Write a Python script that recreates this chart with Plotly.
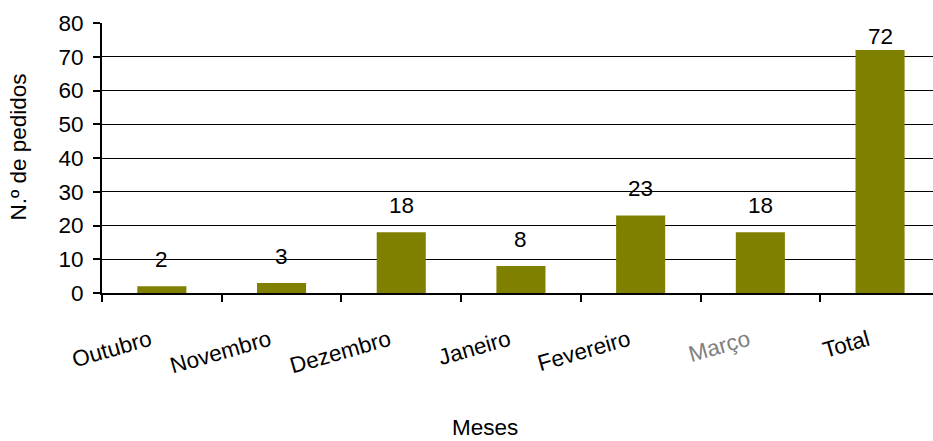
import plotly.graph_objects as go

categories = ["Outubro", "Novembro", "Dezembro", "Janeiro", "Fevereiro", "Março", "Total"]
values = [2, 3, 18, 8, 23, 18, 72]
y_ticks = [0, 10, 20, 30, 40, 50, 60, 70, 80]
y_title = "N.º de pedidos"
x_title = "Meses"

W, H = 933, 441
ML, MR, MT, MB = 102, 0, 23, 148
YMAX = 80
FONT = "Liberation Sans, Arial, sans-serif"
FS = 22.5
plot_h = H - MT - MB
ppu = plot_h / YMAX

pad = "\u00a0\u00a0"
ticktext = [(f'<span style="color:#808080">{c}</span>' if c == "Março" else c) + pad for c in categories]

fig = go.Figure()
fig.add_trace(go.Bar(
    x=categories, y=values,
    marker=dict(color="#808000", line=dict(width=0)),
    hoverinfo="x+y",
))

# data labels above bars, kept inside the plot area
for c, v in zip(categories, values):
    avail = (YMAX - v) * ppu
    shift = min(12, avail - 28)
    fig.add_annotation(x=c, y=v, text=str(v), showarrow=False,
                       yanchor="bottom", yshift=shift,
                       font=dict(family=FONT, size=FS, color="black"))

fig.add_annotation(xref="paper", yref="paper", x=0, y=(H - MB - 147.5) / plot_h,
                   xshift=-84, text=y_title, textangle=-90, showarrow=False,
                   xanchor="center", yanchor="middle",
                   font=dict(family=FONT, size=FS, color="black"))
fig.add_annotation(xref="paper", yref="paper", x=(484.5 - ML) / (W - ML - MR),
                   y=-(427 - (H - MB)) / plot_h, text=x_title, showarrow=False,
                   xanchor="center", yanchor="middle",
                   font=dict(family=FONT, size=FS, color="black"))

fig.update_layout(
    width=W, height=H,
    margin=dict(l=ML, r=MR, t=MT, b=MB),
    paper_bgcolor="white", plot_bgcolor="white",
    bargap=0.59,
    showlegend=False,
    font=dict(family=FONT, size=FS, color="black"),
    xaxis=dict(
        type="category",
        range=[-0.5, -0.5 + (W - ML - MR) / 119.7],
        tickmode="array", tickvals=categories, ticktext=ticktext,
        tickangle=-16,
        tickson="boundaries", ticks="outside", ticklen=7, tickwidth=1.5, tickcolor="black",
        showline=True, linecolor="black", linewidth=2,
        showgrid=False, zeroline=False,
        ticklabelstandoff=20,
        tickfont=dict(family=FONT, size=FS, color="black"),
    ),
    yaxis=dict(
        range=[0, YMAX], tickmode="array", tickvals=y_ticks,
        ticks="outside", ticklen=7, tickwidth=1.5, tickcolor="black",
        showline=True, linecolor="black", linewidth=2,
        showgrid=True, gridcolor="black", gridwidth=1,
        zeroline=False,
        ticklabelstandoff=5,
        tickfont=dict(family=FONT, size=FS, color="black"),
    ),
)

fig.write_html("out.html")
